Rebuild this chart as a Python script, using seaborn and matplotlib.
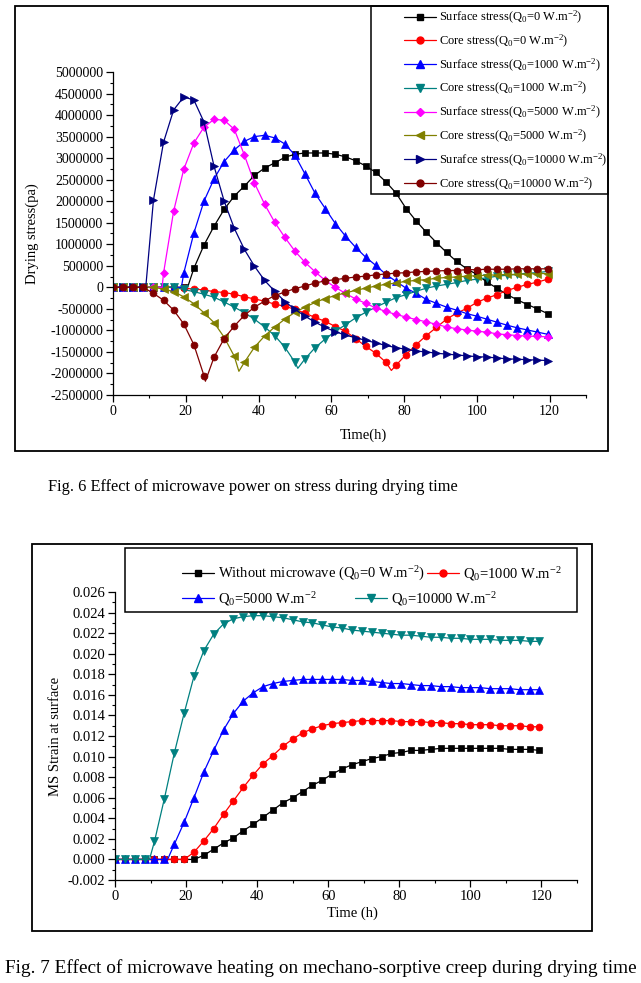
import numpy as np
import pandas as pd
import seaborn as sns
import matplotlib.pyplot as plt
from matplotlib.patches import Rectangle
from matplotlib.lines import Line2D
from matplotlib.ticker import MultipleLocator, FuncFormatter, FormatStrFormatter

# time grid: one sample every 10000 s
hours = np.arange(44) * 10000 / 3600

# ---- Fig. 6 : drying stress (values in MPa, plotted in Pa) ----
surf_0 = [0, 0, 0, 0, 0, 0, 0, 0, 0.44, 0.98, 1.42, 1.81, 2.12, 2.35, 2.60, 2.77, 2.89, 3.02,
          3.09, 3.12, 3.12, 3.12, 3.09, 3.03, 2.94, 2.82, 2.67, 2.45, 2.19, 1.83, 1.54, 1.28,
          1.04, 0.81, 0.60, 0.43, 0.30, 0.12, -0.02, -0.17, -0.29, -0.40, -0.50, -0.61]
core_0 = [0, 0, 0, 0, 0, 0, 0, -0.02, -0.04, -0.06, -0.10, -0.12, -0.16, -0.22, -0.27, -0.32,
          -0.39, -0.44, -0.51, -0.60, -0.70, -0.79, -0.91, -1.02, -1.19, -1.37, -1.53, -1.74,
          -1.81, -1.56, -1.33, -1.12, -0.93, -0.74, -0.60, -0.49, -0.35, -0.25, -0.17, -0.07,
          0.00, 0.07, 0.12, 0.19]
surf_1000 = [0, 0, 0, 0, 0, 0, 0, 0.33, 1.26, 2.00, 2.52, 2.92, 3.19, 3.39, 3.50, 3.53, 3.47,
             3.33, 3.07, 2.63, 2.18, 1.83, 1.48, 1.19, 0.93, 0.70, 0.51, 0.30, 0.14, -0.02,
             -0.14, -0.28, -0.37, -0.46, -0.53, -0.61, -0.67, -0.74, -0.81, -0.88, -0.94,
             -0.99, -1.04, -1.09]
core_1000 = [0, 0, 0, 0, 0, 0, 0, -0.05, -0.10, -0.16, -0.23, -0.34, -0.46, -0.59, -0.74, -0.92,
             -1.12, -1.39, -1.74, -1.66, -1.40, -1.20, -1.02, -0.87, -0.71, -0.58, -0.46, -0.35,
             -0.24, -0.17, -0.09, -0.02, 0.03, 0.07, 0.11, 0.16, 0.19, 0.22, 0.26, 0.28, 0.30,
             0.33, 0.34, 0.37]
surf_5000 = [0, 0, 0, 0, 0, 0.33, 1.77, 2.74, 3.35, 3.72, 3.90, 3.88, 3.67, 3.07, 2.42, 1.93,
             1.51, 1.16, 0.84, 0.58, 0.36, 0.16, 0.00, -0.14, -0.27, -0.37, -0.48, -0.56, -0.63,
             -0.69, -0.75, -0.80, -0.86, -0.92, -0.96, -0.99, -1.02, -1.04, -1.08, -1.10, -1.12,
             -1.13, -1.14, -1.15]
core_5000 = [0, 0, 0, 0, 0, -0.04, -0.10, -0.22, -0.38, -0.59, -0.82, -1.16, -1.60, -1.74, -1.39,
             -1.13, -0.92, -0.74, -0.58, -0.46, -0.35, -0.26, -0.19, -0.13, -0.07, -0.02, 0.03,
             0.07, 0.10, 0.14, 0.16, 0.18, 0.21, 0.23, 0.24, 0.26, 0.27, 0.28, 0.29, 0.30, 0.30,
             0.31, 0.32, 0.32]
surf_10000 = [0, 0, 0, 0, 2.02, 3.37, 4.12, 4.42, 4.35, 3.84, 2.81, 2.00, 1.37, 0.88, 0.49, 0.16,
              -0.09, -0.33, -0.51, -0.67, -0.81, -0.93, -1.03, -1.11, -1.17, -1.23, -1.29, -1.35,
              -1.40, -1.44, -1.48, -1.50, -1.53, -1.55, -1.57, -1.59, -1.61, -1.62, -1.64, -1.66,
              -1.67, -1.68, -1.69, -1.70]
core_10000 = [0, 0, 0, 0, -0.14, -0.30, -0.53, -0.85, -1.33, -2.05, -1.62, -1.19, -0.90, -0.65,
              -0.46, -0.32, -0.19, -0.11, -0.03, 0.03, 0.10, 0.15, 0.18, 0.21, 0.24, 0.26, 0.29,
              0.31, 0.33, 0.34, 0.36, 0.37, 0.38, 0.39, 0.39, 0.41, 0.41, 0.42, 0.42, 0.42, 0.43,
              0.43, 0.43, 0.43]

# extra line vertices (onset of rise / sharp troughs) that carry no marker
bends_6 = {
    'surf_0': [(20.5, 0.0)], 'core_0': [(76.5, -1.93)],
    'surf_1000': [(18.8, 0.0)], 'core_1000': [(50.8, -1.88)],
    'surf_5000': [(13.5, 0.0)], 'core_5000': [(34.6, -1.95)],
    'surf_10000': [(9.0, 0.0)], 'core_10000': [(25.4, -2.18)],
}

labels_6 = [
    r'Surface stress(Q$_\mathregular{0}$=0 W.m$^\mathregular{-2}$)',
    r'Core stress(Q$_\mathregular{0}$=0 W.m$^\mathregular{-2}$)',
    r'Surface stress(Q$_\mathregular{0}$=1000 W.m$^\mathregular{-2}$)',
    r'Core stress(Q$_\mathregular{0}$=1000 W.m$^\mathregular{-2}$)',
    r'Surface stress(Q$_\mathregular{0}$=5000 W.m$^\mathregular{-2}$)',
    r'Core stress(Q$_\mathregular{0}$=5000 W.m$^\mathregular{-2}$)',
    r'Surafce stress(Q$_\mathregular{0}$=10000 W.m$^\mathregular{-2}$)',
    r'Core stress(Q$_\mathregular{0}$=10000 W.m$^\mathregular{-2}$)',
]

# ---- Fig. 7 : MS strain at surface (values x 1e-3) ----
ms_0 = [0, 0, 0, 0, 0, 0, 0, 0, 0, 0.4, 1.0, 1.6, 2.1, 2.8, 3.4, 4.1, 4.8, 5.5, 6.0, 6.6, 7.2,
        7.7, 8.3, 8.8, 9.2, 9.5, 9.8, 10.0, 10.3, 10.4, 10.6, 10.6, 10.7, 10.8, 10.8, 10.8,
        10.8, 10.8, 10.8, 10.8, 10.7, 10.7, 10.7, 10.6]
ms_1000 = [0, 0, 0, 0, 0, 0, 0, 0, 0.7, 1.8, 3.0, 4.4, 5.7, 7.0, 8.2, 9.3, 10.1, 11.0, 11.7,
           12.3, 12.7, 13.0, 13.2, 13.3, 13.4, 13.5, 13.5, 13.5, 13.5, 13.4, 13.4, 13.4, 13.3,
           13.3, 13.2, 13.2, 13.1, 13.1, 13.1, 13.0, 13.0, 13.0, 12.9, 12.9]
ms_5000 = [0, 0, 0, 0, 0, 0, 1.46, 3.6, 6.0, 8.5, 10.6, 12.6, 14.2, 15.4, 16.2, 16.8, 17.1,
           17.3, 17.4, 17.5, 17.5, 17.5, 17.5, 17.5, 17.4, 17.4, 17.3, 17.2, 17.1, 17.1, 17.0,
           16.9, 16.9, 16.8, 16.8, 16.7, 16.7, 16.7, 16.6, 16.6, 16.6, 16.5, 16.5, 16.5]
ms_10000 = [0, 0, 0, 0, 1.76, 5.9, 10.3, 14.2, 17.8, 20.3, 21.9, 22.9, 23.4, 23.6, 23.7, 23.7,
            23.6, 23.5, 23.3, 23.1, 23.0, 22.8, 22.6, 22.5, 22.3, 22.2, 22.1, 22.0, 21.9, 21.8,
            21.8, 21.7, 21.6, 21.6, 21.5, 21.5, 21.4, 21.4, 21.4, 21.3, 21.3, 21.3, 21.2, 21.2]

bends_7 = {'ms_5000': [(14.8, 0.0)], 'ms_10000': [(9.7, 0.0)]}

labels_7 = [
    r'Without microwave (Q$_\mathregular{0}$=0 W.m$^\mathregular{-2}$)',
    r'Q$_\mathregular{0}$=1000 W.m$^\mathregular{-2}$',
    r'Q$_\mathregular{0}$=5000 W.m$^\mathregular{-2}$',
    r'Q$_\mathregular{0}$=10000 W.m$^\mathregular{-2}$',
]

sns.set_theme(style='ticks', rc={'axes.edgecolor': 'black', 'xtick.color': 'black',
                                 'ytick.color': 'black', 'text.color': 'black',
                                 'axes.labelcolor': 'black'})
plt.rcParams['font.family'] = ['Liberation Serif', 'DejaVu Serif']
plt.rcParams['mathtext.fontset'] = 'custom'
plt.rcParams['mathtext.rm'] = 'Liberation Serif'
plt.rcParams['mathtext.it'] = 'Liberation Serif:italic'
plt.rcParams['axes.unicode_minus'] = False

W, H = 641, 983
fig = plt.figure(figsize=(W / 100, H / 100), dpi=100)


def fx(px):
    return px / W


def fy(py):
    return 1 - py / H


def draw(ax, vals, bends, scale, color, marker, ms):
    pts = pd.DataFrame({'t': hours, 'v': np.array(vals) * scale, 'mark': True})
    extra = pd.DataFrame([(t, v * scale, False) for t, v in bends], columns=['t', 'v', 'mark'])
    pts = pd.concat([pts, extra]).sort_values('t', kind='stable').reset_index(drop=True)
    idx = list(pts.index[pts['mark']])
    sns.lineplot(data=pts, x='t', y='v', ax=ax, color=color, marker=marker, markersize=ms,
                 markeredgecolor=color, markeredgewidth=0.5, markevery=idx, linewidth=0.9,
                 estimator=None, sort=False, legend=False)
    return Line2D([], [], color=color, marker=marker, markersize=ms, markeredgecolor=color,
                  linewidth=0.9)


def style_axes(ax, fs):
    sns.despine(ax=ax)
    for s in ('left', 'bottom'):
        ax.spines[s].set_linewidth(0.9)
    ax.tick_params(which='major', direction='out', length=5, width=0.9, pad=2, labelsize=fs)
    ax.tick_params(which='minor', direction='out', length=2.5, width=0.8)
    ax.set_xlim(0, 130)
    ax.xaxis.set_major_locator(MultipleLocator(20))
    ax.xaxis.set_major_formatter(FuncFormatter(lambda v, p: '' if v > 121 else f'{v:.0f}'))
    ax.xaxis.set_minor_locator(MultipleLocator(10))


# ---------------- Fig. 6 ----------------
ax1 = fig.add_axes([fx(113), fy(395), fx(586) - fx(113), (395 - 72) / H])
styles_6 = [
    (surf_0, 'surf_0', '#000000', 's', 4.5), (core_0, 'core_0', '#FF0000', 'o', 5),
    (surf_1000, 'surf_1000', '#0000FF', '^', 5.5), (core_1000, 'core_1000', '#008080', 'v', 5.5),
    (surf_5000, 'surf_5000', '#FF00FF', 'D', 4.5), (core_5000, 'core_5000', '#808000', '<', 5.5),
    (surf_10000, 'surf_10000', '#000080', '>', 5.5), (core_10000, 'core_10000', '#800000', 'o', 5),
]
handles_6 = [draw(ax1, v, bends_6[k], 1e6, c, m, s) for v, k, c, m, s in styles_6]
style_axes(ax1, 10)
ax1.set_ylim(-2500000, 5000000)
ax1.yaxis.set_major_locator(MultipleLocator(500000))
ax1.yaxis.set_minor_locator(MultipleLocator(250000))
ax1.yaxis.set_major_formatter(FuncFormatter(lambda v, p: f'{v:.0f}'))
ax1.set_xlabel('Time(h)', fontsize=10.5)
ax1.set_ylabel('Drying stress(pa)', fontsize=10.5)
ax1.xaxis.set_label_coords((363 - 113) / 473, (395 - 429) / 323)
ax1.yaxis.set_label_coords((39 - 113) / 473, 0.5)

fig.legend(handles_6, labels_6, loc='upper right', bbox_to_anchor=(fx(607), fy(9)),
           frameon=False, fontsize=9, labelspacing=0.54, handlelength=2.6, handletextpad=0.2,
           borderpad=0, borderaxespad=0)
fig.patches.append(Rectangle((fx(15), fy(451)), fx(608) - fx(15), (451 - 6) / H,
                             transform=fig.transFigure, fill=False, ec='black', lw=1.3))
fig.patches.append(Rectangle((fx(371), fy(194)), fx(608) - fx(371), (194 - 6) / H,
                             transform=fig.transFigure, fill=False, ec='black', lw=1.1))
fig.text(fx(253), fy(487), 'Fig. 6 Effect of microwave power on stress during drying time',
         ha='center', va='center', fontsize=11.8)

# ---------------- Fig. 7 ----------------
ax2 = fig.add_axes([fx(115), fy(880), fx(577) - fx(115), (880 - 592) / H])
styles_7 = [
    (ms_0, 'ms_0', '#000000', 's', 4.5), (ms_1000, 'ms_1000', '#FF0000', 'o', 5),
    (ms_5000, 'ms_5000', '#0000FF', '^', 5.5), (ms_10000, 'ms_10000', '#008080', 'v', 5.5),
]
handles_7 = [draw(ax2, v, bends_7.get(k, []), 1e-3, c, m, s) for v, k, c, m, s in styles_7]
style_axes(ax2, 10.5)
ax2.set_ylim(-0.002, 0.026)
ax2.yaxis.set_major_locator(MultipleLocator(0.002))
ax2.yaxis.set_minor_locator(MultipleLocator(0.001))
ax2.yaxis.set_major_formatter(FormatStrFormatter('%.3f'))
ax2.set_xlabel('Time (h)', fontsize=10.5)
ax2.set_ylabel('MS Strain at surface', fontsize=10.5)
ax2.xaxis.set_label_coords((352 - 115) / 462, (880 - 907) / 288)
ax2.yaxis.set_label_coords((62 - 115) / 462, 0.5)

fig.legend(handles_7[:2], labels_7[:2], loc='center left', ncol=2,
           bbox_to_anchor=(fx(182), fy(574)), frameon=False, fontsize=10.5,
           handlelength=2.2, handletextpad=0.3, columnspacing=0.1,
           borderpad=0, borderaxespad=0)
fig.legend(handles_7[2:], labels_7[2:], loc='center left', ncol=2,
           bbox_to_anchor=(fx(182), fy(599)), frameon=False, fontsize=10.5,
           handlelength=2.2, handletextpad=0.3, columnspacing=2.6,
           borderpad=0, borderaxespad=0)
fig.patches.append(Rectangle((fx(32), fy(931)), fx(592) - fx(32), (931 - 544) / H,
                             transform=fig.transFigure, fill=False, ec='black', lw=1.3))
fig.patches.append(Rectangle((fx(125), fy(612)), fx(577) - fx(125), (612 - 548) / H,
                             transform=fig.transFigure, fill=False, ec='black', lw=1.1))
fig.text(fx(320.5), fy(968),
         'Fig. 7 Effect of microwave heating on mechano-sorptive creep during drying time',
         ha='center', va='center', fontsize=13.9)

fig.savefig('out.png', dpi=100)
